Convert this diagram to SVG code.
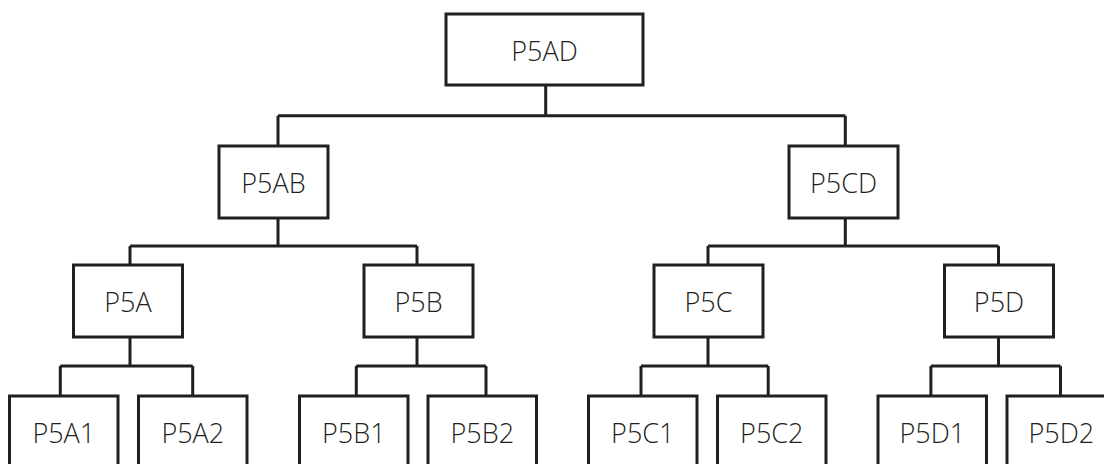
<svg xmlns="http://www.w3.org/2000/svg" width="1104" height="464" viewBox="0 0 1104 464">
<style>
.box{fill:#fff;stroke:#231f20;stroke-width:3}
.lbl{font-family:"Open Sans","Noto Sans",sans-serif;font-size:27px;font-weight:300;fill:#231f20;text-anchor:middle}
.con{fill:none;stroke:#231f20;stroke-width:3}
</style>
<rect width="1104" height="464" fill="#fff"/>
<g id="connectors" class="con">
<path d="M545.7 85V115.7M278 115.7H845.3M278 115.7V146M845.3 115.7V146"/>
<path d="M278 218V246M130 246H417M130 246V265M417 246V265"/>
<path d="M845.3 218V246M708 246H998.5M708 246V265M998.5 246V265"/>
<path d="M130 337V366M60.3 366H192.7M60.3 366V396M192.7 366V396"/>
<path d="M417 337V366M356.3 366H486M356.3 366V396M486 366V396"/>
<path d="M708 337V366M641 366H768.2M641 366V396M768.2 366V396"/>
<path d="M998.5 337V366M930.9 366H1060.5M930.9 366V396M1060.5 366V396"/>
</g>
<g id="P5AD"><rect class="box" x="446" y="14" width="197" height="71"/><text class="lbl" x="544.5" y="61">P5AD</text></g>
<g id="P5AB"><rect class="box" x="219" y="146" width="109" height="72"/><text class="lbl" x="273.5" y="193">P5AB</text></g>
<g id="P5CD"><rect class="box" x="789" y="146" width="109" height="72"/><text class="lbl" x="843.5" y="193">P5CD</text></g>
<g id="P5A"><rect class="box" x="73.5" y="265" width="109" height="72"/><text class="lbl" x="128" y="312">P5A</text></g>
<g id="P5B"><rect class="box" x="364" y="265" width="109" height="72"/><text class="lbl" x="418.5" y="312">P5B</text></g>
<g id="P5C"><rect class="box" x="654" y="265" width="109" height="72"/><text class="lbl" x="708.5" y="312">P5C</text></g>
<g id="P5D"><rect class="box" x="944.5" y="265" width="109" height="72"/><text class="lbl" x="999" y="312">P5D</text></g>
<g id="P5A1"><rect class="box" x="9.5" y="396" width="108.5" height="80"/><text class="lbl" x="63.8" y="443">P5A1</text></g>
<g id="P5A2"><rect class="box" x="138.5" y="396" width="108.5" height="80"/><text class="lbl" x="192.8" y="443">P5A2</text></g>
<g id="P5B1"><rect class="box" x="299.5" y="396" width="108.5" height="80"/><text class="lbl" x="353.8" y="443">P5B1</text></g>
<g id="P5B2"><rect class="box" x="428" y="396" width="108.5" height="80"/><text class="lbl" x="482.3" y="443">P5B2</text></g>
<g id="P5C1"><rect class="box" x="588.5" y="396" width="108.5" height="80"/><text class="lbl" x="642.8" y="443">P5C1</text></g>
<g id="P5C2"><rect class="box" x="717.5" y="396" width="108.5" height="80"/><text class="lbl" x="771.8" y="443">P5C2</text></g>
<g id="P5D1"><rect class="box" x="878" y="396" width="108.5" height="80"/><text class="lbl" x="932.3" y="443">P5D1</text></g>
<g id="P5D2"><rect class="box" x="1007" y="396" width="108.5" height="80"/><text class="lbl" x="1061.3" y="443">P5D2</text></g>
</svg>
